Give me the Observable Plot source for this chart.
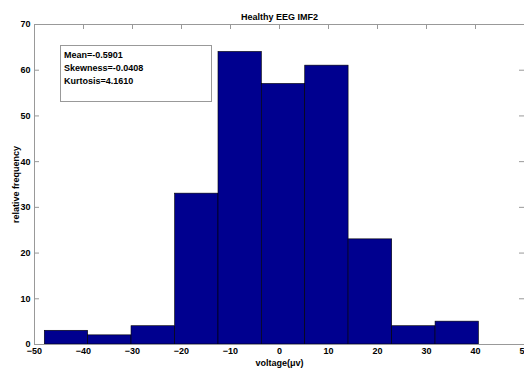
<!DOCTYPE html>
<html>
<head>
<meta charset="utf-8">
<script src="https://cdn.jsdelivr.net/npm/d3@7"></script>
<script src="https://cdn.jsdelivr.net/npm/@observablehq/plot@0.6"></script>
<style>
  html, body { margin: 0; padding: 0; background: #fff; }
  #wrap { position: relative; width: 524px; height: 370px; overflow: hidden; }
  #stats {
    position: absolute; left: 60px; top: 45px; width: 147px; height: 52px;
    border: 1px solid #999; background: #fff;
    font: bold 9px "Liberation Sans", Arial, sans-serif;
    line-height: 13px; padding: 3px 0 0 3px; box-sizing: content-box; color: #000;
  }
</style>
</head>
<body>
<div id="wrap"></div>
<script>
// Bin edges (voltage, μV) and counts
const binEdges = [-47.9, -39.05, -30.2, -21.3, -12.45, -3.6, 5.25, 14.1, 23.0, 31.85, 40.7];
const counts = [3, 2, 4, 33, 64, 57, 61, 23, 4, 5];
const xTicks = [-50, -40, -30, -20, -10, 0, 10, 20, 30, 40, 50];
const yTicks = [0, 10, 20, 30, 40, 50, 60, 70];
const statsLines = ["Mean=-0.5901", "Skewness=-0.0408", "Kurtosis=4.1610"];
const titleText = "Healthy EEG IMF2";
const xLabel = "voltage(\u03bcv)";
const yLabel = "relative frequency";

const bins = counts.map((c, i) => ({x1: binEdges[i], x2: binEdges[i + 1], y: c}));
const font = `"Liberation Sans", Arial, sans-serif`;

const chart = Plot.plot({
  width: 524,
  height: 370,
  marginTop: 24,
  marginBottom: 26,
  marginLeft: 34,
  marginRight: 0,
  style: {fontFamily: font, fontSize: "9px", fontWeight: "bold", color: "#000", background: "#fff"},
  x: {domain: [-50, 50], ticks: xTicks},
  y: {domain: [0, 70], ticks: yTicks},
  marks: [
    Plot.rectY(bins, {x1: "x1", x2: "x2", y: "y", fill: "#00008f", stroke: "#000", strokeWidth: 0.6}),
    Plot.frame({stroke: "#999", strokeWidth: 1}),
    // inward tick marks (MATLAB style)
    Plot.tickX(xTicks.slice(1, -1), {x: d => d, stroke: "#999", insetBottom: 315}),
    Plot.tickY(yTicks.slice(1, -1), {y: d => d, stroke: "#999", insetRight: 485}),
    Plot.tickY(yTicks.slice(1, -1), {y: d => d, stroke: "#999", insetLeft: 485}),
    Plot.axisX({ticks: xTicks, tickSize: 0, tickPadding: 3, label: null, fontWeight: "bold"}),
    Plot.axisY({ticks: yTicks, tickSize: 0, tickPadding: 4, label: null, fontWeight: "bold"}),
    Plot.text([titleText], {frameAnchor: "top", dy: -11, fontWeight: "bold", fontSize: 9}),
    Plot.text([xLabel], {frameAnchor: "bottom", dy: 21, fontWeight: "bold", fontSize: 9}),
    Plot.text([yLabel], {frameAnchor: "left", dx: -18, rotate: -90, textAnchor: "middle", fontWeight: "bold", fontSize: 9})
  ]
});

const wrap = document.getElementById("wrap");
wrap.appendChild(chart);
const box = document.createElement("div");
box.id = "stats";
box.innerHTML = statsLines.map(s => `<div>${s}</div>`).join("");
wrap.appendChild(box);
</script>
</body>
</html>
